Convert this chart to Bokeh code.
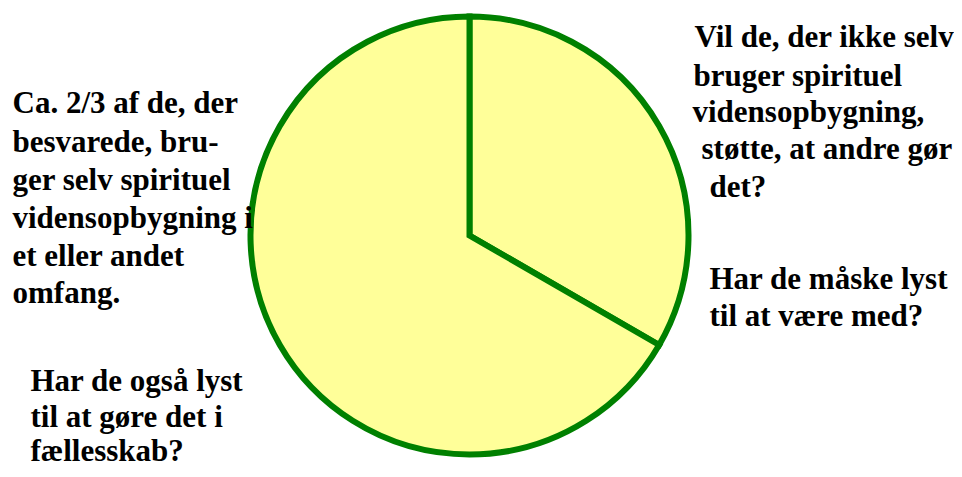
import math
from bokeh.plotting import figure
from bokeh.models import ColumnDataSource, Range1d
from bokeh.core.properties import value
from bokeh.embed import file_html
from bokeh.resources import INLINE

# ---- data ----
categories = ["Bruger ikke selv", "Bruger selv (ca. 2/3)"]
shares = [1/3, 2/3]

left_lines = ["Ca. 2/3 af de, der", "besvarede, bru-", "ger selv spirituel",
              "vidensopbygning  i", "et  eller andet", "omfang."]
right_lines = ["Vil de, der ikke selv", "bruger spirituel", "vidensopbygning,",
               "støtte, at andre gør", "det?"]
right_lines2 = ["Har de måske lyst", "til at være med?"]
bottom_lines = ["Har de også lyst", "til at gøre det i", "fællesskab?"]

W, H = 954, 469
p = figure(width=W, height=H, output_backend="svg", toolbar_location=None,
           x_range=Range1d(0, W), y_range=Range1d(0, H), min_border=0)
p.axis.visible = False
p.grid.visible = False
p.outline_line_color = None
p.background_fill_color = "white"

# pie angles (clockwise from 12 o'clock)
starts, ends = [], []
cum = 0.0
for s in shares:
    starts.append(math.pi / 2 - cum * 2 * math.pi)
    cum += s
    ends.append(math.pi / 2 - cum * 2 * math.pi)

src = ColumnDataSource(dict(cat=categories, share=shares, start=starts, end=ends))
p.wedge(x=469, y=H - 235, radius=219, start_angle="start", end_angle="end",
        direction="clock", source=src, fill_color="#FFFF99",
        line_color="#008000", line_width=6, line_join="miter")

FONT = "'Liberation Serif', 'Times New Roman', serif"
SHIFT = 12  # svg baseline correction

def draw(lines, xs, ys):
    s = ColumnDataSource(dict(t=lines, x=xs, y=[H - (y - SHIFT) for y in ys]))
    p.text(x="x", y="y", text="t", source=s, text_font=value(FONT),
           text_font_style="bold", text_font_size="31px", text_color="black",
           text_baseline="alphabetic", text_align="left")

draw(left_lines, [12] * 6, [114, 153, 191, 229, 267, 304])
draw(right_lines, [694, 693, 692, 701, 709], [48, 87, 123, 160, 198])
draw(right_lines2, [709, 709], [290, 327])
draw(bottom_lines, [30, 30, 30], [392, 428, 462])

open("out.html", "w").write(file_html(p, INLINE))
